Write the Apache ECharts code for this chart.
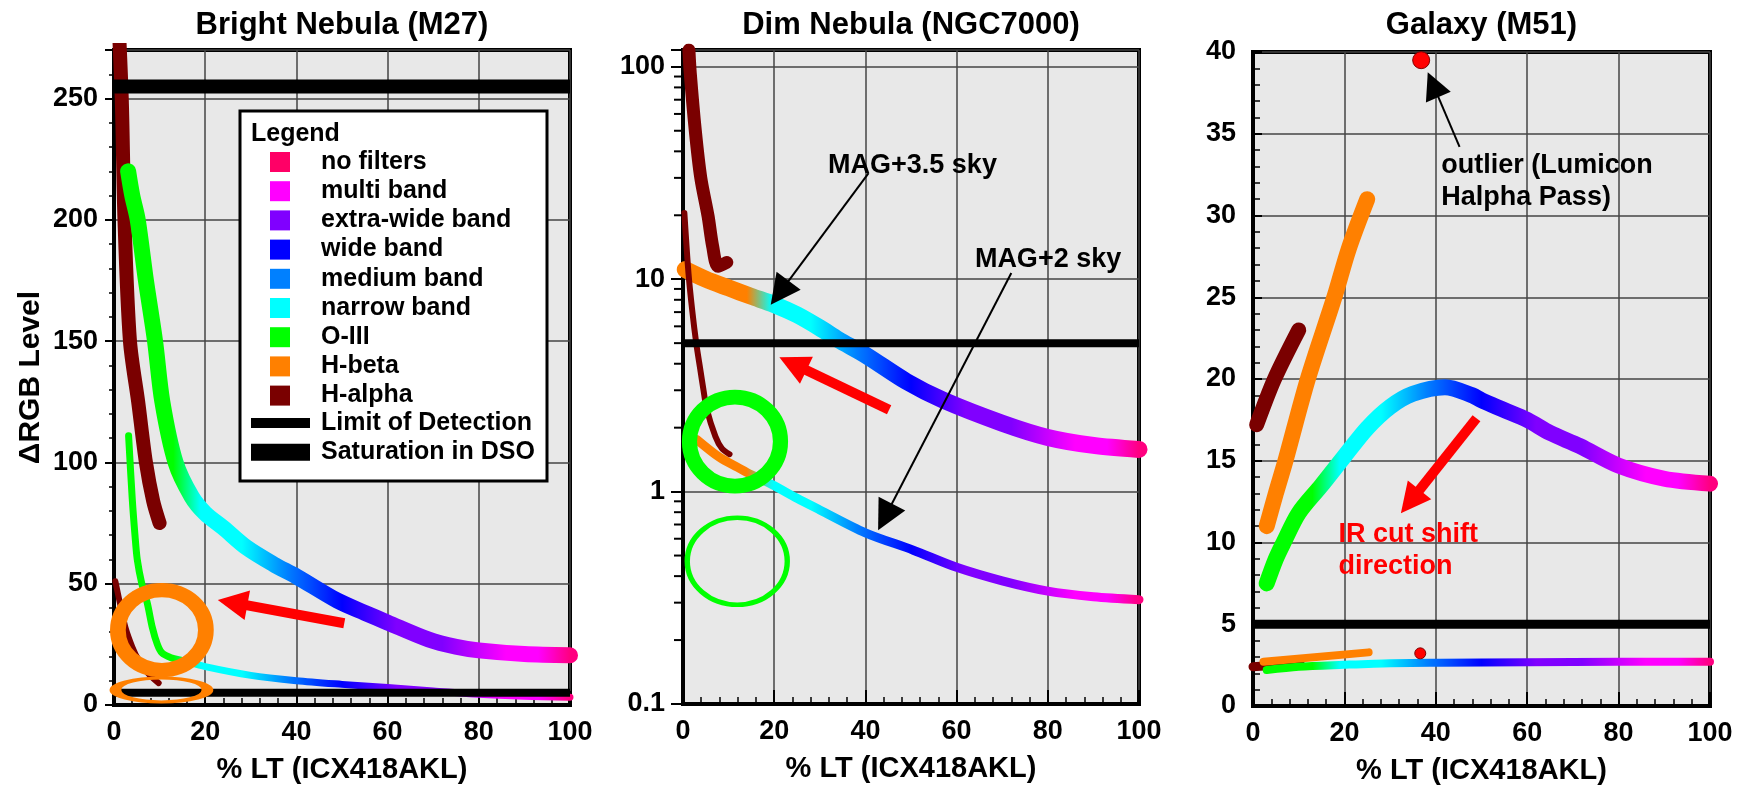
<!DOCTYPE html>
<html><head><meta charset="utf-8">
<script src="https://cdn.jsdelivr.net/npm/echarts@6/dist/echarts.min.js"></script>
<style>html,body{margin:0;padding:0;background:#fff}#c{width:1747px;height:800px}</style>
</head><body><div id="c"></div>
<script>
// ---------- DATA ----------
const panelTitles = ['Bright Nebula (M27)', 'Dim Nebula (NGC7000)', 'Galaxy (M51)'];
const xAxisTitle = '% LT (ICX418AKL)';
const yAxisTitle = '\u0394RGB Level';
const logTickLabels = {'-1': '0.1', '0': '1', '1': '10', '2': '100'};
const logMinorTicks = [0.2,0.3,0.4,0.5,0.6,0.7,0.8,0.9,2,3,4,5,6,7,8,9,20,30,40,50,60,70,80,90];

const legendNames = ['no filters','multi band','extra-wide band','wide band','medium band','narrow band','O-III','H-beta','H-alpha'];
const legendColors = ['#ff0066','#ff00ff','#8000ff','#0000ff','#0080ff','#00ffff','#00ff00','#ff8000','#7a0000'];
const lineLegendNames = ['Limit of Detection','Saturation in DSO'];

// colour stops along % LT for the filter-gradient curves
const stopsGreen = [[0,'#00ff00'],[13,'#00ff00'],[19,'#00ffff'],[28,'#00ffff'],[38,'#0080ff'],[50,'#0000ff'],[62,'#8000ff'],[72,'#8000ff'],[86,'#ff00ff'],[93,'#ff00ff'],[100,'#ff0080']];
const stopsOrange = [[0,'#ff8000'],[14,'#ff8000'],[19.5,'#00ffff'],[28,'#00ffff'],[38,'#0080ff'],[50,'#0000ff'],[62,'#8000ff'],[72,'#8000ff'],[86,'#ff00ff'],[93,'#ff00ff'],[100,'#ff0080']];

// Panel 1: Bright Nebula (M27)
const p1HalphaThick = [[0.8,290],[1.7,250],[2.3,200],[3.5,150],[5.3,125],[7.0,100],[8.6,84],[10,75]];
const p1Upper = [[3.1,220],[4,210],[5.2,200],[7,175],[9,150],[10.6,125],[13.5,100],[17,86],[20,79],[24,73],[29,65],[35,58],[40,53],[49,43],[55,38],[60,34],[69,27],[75,24],[80,22.5],[90,21],[100,20.5]];
const p1Lower = [[3.2,111],[4,85],[4.6,70],[5.1,60],[6.1,50],[7.3,42],[8.4,32],[9.5,25],[10.5,21.5],[12.5,19.5],[15,18.3],[20,15.8],[30,12.2],[40,10],[50,8.5],[60,7.2],[70,5.8],[80,4.4],[90,3.6],[100,3.2]];
const p1HalphaThin = [[0.3,51],[1.3,42],[2.5,32],[4,24],[5.4,18.5],[7.5,13],[9.8,9]];
const p1Limit = [[0,5],[100,5]];
const p1Saturation = [[0,255],[100,255]];

// Panel 2: Dim Nebula (NGC7000)
const p2HalphaThick = [[1.3,120],[1.6,93],[2.7,50],[3.9,30],[5.5,19.8],[6.5,14.3],[7.7,11.5],[9.6,12]];
const p2HalphaThin = [[0.3,20.5],[1.2,10.7],[2,7.2],[2.9,5],[3.8,3.75],[4.5,3],[5.2,2.45],[7.1,1.82],[8.5,1.6],[10.2,1.5]];
const p2Upper = [[0.5,11.1],[5,10],[10,9.1],[15,8.3],[20,7.6],[25,6.8],[30,5.9],[34,5.2],[40,4.4],[49,3.3],[57,2.7],[70,2.1],[80,1.8],[90,1.65],[100,1.58]];
const p2Lower = [[3,1.76],[8,1.45],[12,1.3],[15,1.2],[19.5,1.08],[25,0.93],[30,0.82],[40,0.64],[50.5,0.53],[60,0.44],[70,0.38],[80,0.34],[90,0.32],[100,0.31]];
const p2Limit = [[0,5],[100,5]];

// Panel 3: Galaxy (M51)
const p3HalphaThick = [[0.8,17.2],[4.7,20],[10,23]];
const p3HbetaThick = [[3,11],[5,13],[7.1,15],[12,20],[17.8,25],[21,28],[25,31]];
const p3Upper = [[3,7.5],[5,9],[6.7,10],[10,11.8],[15,13.5],[19.8,15.2],[25,17],[30,18.3],[35,19.1],[42,19.5],[48,19.0],[50,18.7],[55,18.1],[60,17.5],[65,16.7],[71.5,15.9],[80,14.7],[90,13.9],[100,13.6]];
const p3Lower = [[3,2.2],[10,2.4],[19.8,2.52],[30,2.62],[41,2.65],[60,2.68],[80,2.7],[100,2.7]];
const p3HalphaThin = [[0,2.4],[10.3,2.6]];
const p3HbetaThin = [[2.3,2.71],[25.3,3.28]];
const p3Outliers = [[36.8,39.5],[36.6,3.22]];
const p3Limit = [[0,5],[100,5]];

// annotations (data coordinates)
const p1Circles = [[10.5,30.9],[10.4,6.2]];
const p2Circles = [[11.4,1.72],[11.9,0.47]];
const p1RedArrow = [[50.5,33.7],[26,42.2]];
const p2RedArrow = [[45.2,2.43],[24.1,4.0]];
const p3RedArrow = [[48.9,17.6],[34.4,12.5]];
const p2BlackArrows = [[[40.7,31.6],[21.2,8.63]], [[72,10.7],[44.3,0.76]]];
const p3BlackArrow = [[45.2,34.2],[39.4,38.0]];
const p2Notes = [[31.7,34.3,'MAG+3.5 sky'],[63.9,12.4,'MAG+2 sky']];
const p3Notes = [[41.1,32.1,'outlier (Lumicon\nHalpha Pass)'],[18.6,9.5,'IR cut shift\ndirection']];

// ---------- CHART ----------
const FF = '"Liberation Sans", Arial, sans-serif';
const grids = [
  {left:114, top:50, width:456, height:655},
  {left:683, top:50, width:456, height:654},
  {left:1253, top:52, width:457, height:654}
];

function hex(c){return [parseInt(c.slice(1,3),16),parseInt(c.slice(3,5),16),parseInt(c.slice(5,7),16)];}
function buildColors(stops, n){
  const out=[];
  for(let i=0;i<n;i++){
    const x=i*100/(n-1);
    let k=0; while(k<stops.length-2 && x>stops[k+1][0]) k++;
    const a=stops[k], b=stops[k+1];
    const t=Math.min(1,Math.max(0,(x-a[0])/(b[0]-a[0])));
    const ca=hex(a[1]), cb=hex(b[1]);
    const c=ca.map((v,j)=>Math.round(v+(cb[j]-v)*t));
    out.push('rgb('+c.join(',')+')');
  }
  return out;
}

const series=[], visualMaps=[];
function curve(gi,data,width,color,z){
  series.push({type:'line',xAxisIndex:gi,yAxisIndex:gi,data:data,symbol:'none',showSymbol:false,
    smooth:0.3, silent:true, z:z||3, animation:false,
    lineStyle:{width:width,color:color,cap:'round',join:'round'}});
  return series.length-1;
}
function gradient(gi,data,width,stops){
  const idx=curve(gi,data,width,undefined,3);
  visualMaps.push({type:'continuous',show:false,seriesIndex:idx,dimension:0,min:0,max:100,inRange:{color:buildColors(stops,101)}});
}
function hline(gi,data,width){
  series.push({type:'line',xAxisIndex:gi,yAxisIndex:gi,data:data,symbol:'none',silent:true,z:5,
    lineStyle:{width:width,color:'#000',cap:'butt'}});
}
function ring(gi,pt,size,color,bw){
  series.push({type:'scatter',xAxisIndex:gi,yAxisIndex:gi,data:[pt],symbol:'circle',symbolSize:size,silent:true,z:6,clip:false,
    itemStyle:{color:'rgba(0,0,0,0)',borderColor:color,borderWidth:bw,opacity:1}});
}
function arrow(gi,coords,color,width,head){
  series.push({type:'lines',coordinateSystem:'cartesian2d',xAxisIndex:gi,yAxisIndex:gi,silent:true,z:7,
    symbol:['none','triangle'],symbolSize:head,
    lineStyle:{color:color,width:width,opacity:1,curveness:0},
    data:[{coords:coords}]});
}
function note(gi,n,color){
  series.push({type:'scatter',xAxisIndex:gi,yAxisIndex:gi,data:[[n[0],n[1]]],symbolSize:1,silent:true,z:8,clip:false,
    itemStyle:{color:'rgba(0,0,0,0)'},
    label:{show:true,position:'right',distance:0,formatter:n[2],color:color,opacity:1,textBorderWidth:0,
      fontSize:27,fontWeight:'bold',fontFamily:FF,lineHeight:32}});
}

// Panel 1
curve(0,p1HalphaThick,14,'#7a0000');
curve(0,p1HalphaThin,6,'#7a0000');
gradient(0,p1Lower,7,stopsGreen);
gradient(0,p1Upper,16,stopsGreen);
hline(0,p1Limit,8);
hline(0,p1Saturation,14);
ring(0,p1Circles[0],[88,80],'#ff8000',15);
ring(0,p1Circles[1],[92,24],'#ff8000',6);
arrow(0,p1RedArrow,'#ff0000',10,30);

// Panel 2
gradient(1,p2Upper,17,stopsOrange);
gradient(1,p2Lower,9,stopsOrange);
curve(1,p2HalphaThick,13,'#7a0000');
curve(1,p2HalphaThin,6,'#7a0000');
hline(1,p2Limit,8);
ring(1,p2Circles[0],[91,89],'#00ff00',15);
ring(1,p2Circles[1],[100,87],'#00ff00',5);
arrow(1,p2RedArrow,'#ff0000',10,30);
p2BlackArrows.forEach(a=>arrow(1,a,'#000',2,30));
p2Notes.forEach(n=>note(1,n,'#000'));

// Panel 3
curve(2,p3HalphaThick,15,'#7a0000');
curve(2,p3HbetaThick,16,'#ff8000');
gradient(2,p3Upper,16,stopsGreen);
curve(2,p3HalphaThin,9,'#7a0000');
curve(2,p3HbetaThin,8,'#ff8000');
gradient(2,p3Lower,8,stopsGreen);
hline(2,p3Limit,9);
series.push({type:'scatter',xAxisIndex:2,yAxisIndex:2,data:[{value:p3Outliers[0],symbolSize:17},{value:p3Outliers[1],symbolSize:11}],
  symbol:'circle',silent:true,z:6,clip:false,itemStyle:{color:'#ff0000',borderColor:'#800000',borderWidth:1,opacity:1}});
arrow(2,p3BlackArrow,'#000',2,27);
arrow(2,p3RedArrow,'#ff0000',10,30);
p3Notes.forEach((n,i)=>note(2,n,i===0?'#000':'#ff0000'));

// axes
const labelStyle={fontSize:27,fontWeight:'bold',color:'#000',fontFamily:FF};
const nameStyle={fontSize:29,fontWeight:'bold',color:'#000',fontFamily:FF};
const split={show:true,lineStyle:{color:'#444',width:1.5}};
const xAxes=[0,1,2].map(gi=>({gridIndex:gi,type:'value',min:0,max:100,interval:20,
  name:xAxisTitle,nameLocation:'middle',nameGap:50,nameTextStyle:nameStyle,
  axisLine:{show:true,onZero:false,lineStyle:{color:'#000',width:4}},
  axisTick:{show:true,inside:true,length:14,lineStyle:{color:'#000',width:2}},
  minorTick:{show:true,splitNumber:5,length:7,lineStyle:{color:'#000',width:1.5}},
  axisLabel:Object.assign({margin:14},labelStyle),splitLine:split}));
const yAxes=[
  {gridIndex:0,type:'value',min:0,max:270,interval:50,
   name:yAxisTitle,nameLocation:'middle',nameRotate:90,nameGap:68,nameTextStyle:Object.assign({},nameStyle,{fontSize:30}),
   axisLine:{show:true,lineStyle:{color:'#000',width:4}},
   axisTick:{show:true,inside:false,length:9,lineStyle:{color:'#000',width:2}},
   minorTick:{show:true,splitNumber:5,length:5,lineStyle:{color:'#000',width:1.5}},
   axisLabel:Object.assign({margin:16,formatter:v=>(v%50===0?String(v):'')},labelStyle),splitLine:split},
  {gridIndex:1,type:'log',logBase:10,min:0.1,max:120,
   axisLine:{show:true,lineStyle:{color:'#000',width:4}},
   axisTick:{show:true,inside:false,length:12,lineStyle:{color:'#000',width:2}},
   axisLabel:Object.assign({margin:18,formatter:v=>{const e=Math.round(Math.log10(v));return Math.abs(Math.log10(v)-e)<1e-6&&logTickLabels[String(e)]?logTickLabels[String(e)]:'';}},labelStyle),
   splitLine:split},
  {gridIndex:2,type:'value',min:0,max:40,interval:5,
   axisLine:{show:true,lineStyle:{color:'#000',width:4}},
   axisTick:{show:true,inside:true,length:9,lineStyle:{color:'#000',width:2}},
   minorTick:{show:true,splitNumber:5,length:7,lineStyle:{color:'#000',width:1.5}},
   axisLabel:Object.assign({margin:17},labelStyle),splitLine:split}
];

// titles + legend (graphic)
const graphic=[];
const centers=grids.map(g=>g.left+g.width/2);
panelTitles.forEach((t,i)=>graphic.push({type:'text',x:centers[i],y:25,z:50,
  style:{text:t,font:'bold 31px '+FF,fill:'#000',align:'center',verticalAlign:'middle',textAlign:'center',textVerticalAlign:'middle'}}));
graphic.push({type:'rect',shape:{x:240,y:111,width:307,height:370},z:50,style:{fill:'#fff',stroke:'#000',lineWidth:3}});
graphic.push({type:'text',x:251,y:134,z:51,style:{text:'Legend',font:'bold 25px '+FF,fill:'#000',verticalAlign:'middle',textVerticalAlign:'middle'}});
legendNames.forEach((n,i)=>{
  const cy=162+i*29.2;
  graphic.push({type:'rect',shape:{x:270,y:cy-10,width:20,height:20},z:51,style:{fill:legendColors[i]}});
  graphic.push({type:'text',x:321,y:cy,z:51,style:{text:n,font:'bold 25px '+FF,fill:'#000',verticalAlign:'middle',textVerticalAlign:'middle'}});
});
lineLegendNames.forEach((n,i)=>{
  const cy=423+i*29.2, h=i===0?10:17;
  graphic.push({type:'rect',shape:{x:251,y:cy-h/2,width:59,height:h},z:51,style:{fill:'#000'}});
  graphic.push({type:'text',x:321,y:cy,z:51,style:{text:n,font:'bold 25px '+FF,fill:'#000',verticalAlign:'middle',textVerticalAlign:'middle'}});
});

const chart=echarts.init(document.getElementById('c'),null,{renderer:'canvas'});
chart.setOption({
  animation:false,
  backgroundColor:'#fff',
  grid:grids.map(g=>Object.assign({show:true,borderColor:'#000',borderWidth:4,backgroundColor:'#e8e8e8'},g)),
  xAxis:xAxes, yAxis:yAxes,
  visualMap:visualMaps,
  series:series,
  graphic:graphic
});
// log-axis minor ticks (2..9 per decade), placed through the axis scale
const minorTickEls = logMinorTicks.map(v=>{
  const p = chart.convertToPixel({gridIndex:1},[0,v]);
  if (!p || !isFinite(p[0]) || !isFinite(p[1])) throw new Error('bad pixel for '+v+': '+JSON.stringify(p));
  return {type:'rect',z:60,shape:{x:p[0]-9,y:p[1]-1,width:8,height:2},style:{fill:'#000'}};
});
chart.setOption({graphic:{elements:graphic.concat(minorTickEls)}});
</script></body></html>
